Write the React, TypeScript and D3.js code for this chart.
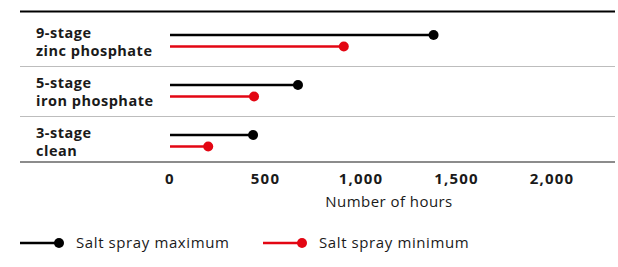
import React, { useEffect, useRef } from "react";
import * as d3 from "d3";

const categories = [["9-stage", "zinc phosphate"], ["5-stage", "iron phosphate"], ["3-stage", "clean"]];
const maxHours = [1380, 670, 435];
const minHours = [910, 440, 200];
const ticks = [0, 500, 1000, 1500, 2000];
const seriesNames = ["Salt spray maximum", "Salt spray minimum"];
const colors = ["#000000", "#e30613"];

const FONT = "'Open Sans', 'Noto Sans', sans-serif";

const App = () => {
    const ref = useRef<SVGSVGElement>(null);

    useEffect(() => {
        const svg = d3.select(ref.current);
        svg.selectAll("*").remove();

        const width = 618;
        const height = 267;

        const x = d3.scaleLinear().domain([0, 2000]).range([170, 552]);
        const y = d3
            .scaleBand()
            .domain(categories.map((c) => c[0]))
            .range([15.5, 165.5]);

        // top rule
        svg.append("line")
            .attr("x1", 20).attr("x2", 615)
            .attr("y1", 11.5).attr("y2", 11.5)
            .attr("stroke", "#000").attr("stroke-width", 2);

        // row dividers
        categories.slice(0, -1).forEach((c) => {
            const yy = Math.round(y(c[0])! + y.bandwidth()) + 0.5;
            svg.append("line")
                .attr("x1", 20).attr("x2", 615)
                .attr("y1", yy).attr("y2", yy)
                .attr("stroke", "#bdbdbd").attr("stroke-width", 1);
        });

        // bottom axis line
        svg.append("line")
            .attr("x1", 20).attr("x2", 615)
            .attr("y1", 162).attr("y2", 162)
            .attr("stroke", "#666").attr("stroke-width", 1.5);

        // category labels
        categories.forEach((c) => {
            const cy = y(c[0])! + y.bandwidth() / 2;
            const t = svg.append("text")
                .attr("x", 36)
                .attr("font-family", FONT)
                .attr("font-weight", "bold")
                .attr("font-size", 14.5)
                .attr("letter-spacing", 0.5)
                .attr("fill", "#1a1a1a");
            c.forEach((line, i) => {
                t.append("tspan")
                    .attr("x", 36)
                    .attr("y", cy - 3 + i * 18)
                    .text(line);
            });
        });

        // lollipops
        const series = [maxHours, minHours];
        series.forEach((vals, si) => {
            categories.forEach((c, i) => {
                const cy = y(c[0])! + y.bandwidth() / 2 - 5.5 + si * 11.5;
                svg.append("line")
                    .attr("x1", x(0)).attr("x2", x(vals[i]))
                    .attr("y1", cy).attr("y2", cy)
                    .attr("stroke", colors[si]).attr("stroke-width", 2.5);
                svg.append("circle")
                    .attr("cx", x(vals[i])).attr("cy", cy)
                    .attr("r", 5)
                    .attr("fill", colors[si]);
            });
        });

        // tick labels
        svg.append("g")
            .selectAll("text")
            .data(ticks)
            .enter()
            .append("text")
            .attr("x", (d) => x(d))
            .attr("y", 183.5)
            .attr("text-anchor", "middle")
            .attr("font-family", FONT)
            .attr("font-weight", "bold")
            .attr("font-size", 15)
            .attr("letter-spacing", 1.2)
            .attr("fill", "#1a1a1a")
            .text((d) => d3.format(",")(d));

        svg.append("text")
            .attr("x", 389)
            .attr("y", 207)
            .attr("text-anchor", "middle")
            .attr("font-family", FONT)
            .attr("font-size", 15)
            .attr("letter-spacing", 0.45)
            .attr("fill", "#1a1a1a")
            .text("Number of hours");

        // legend
        const legendX = [20, 263];
        seriesNames.forEach((name, i) => {
            const lx = legendX[i];
            svg.append("line")
                .attr("x1", lx).attr("x2", lx + 38)
                .attr("y1", 243).attr("y2", 243)
                .attr("stroke", colors[i]).attr("stroke-width", 2.5);
            svg.append("circle")
                .attr("cx", lx + 39).attr("cy", 243).attr("r", 5)
                .attr("fill", colors[i]);
            svg.append("text")
                .attr("x", lx + 56)
                .attr("y", 248)
                .attr("font-family", FONT)
                .attr("font-size", 15)
                .attr("letter-spacing", 0.6)
                .attr("fill", "#1a1a1a")
                .text(name);
        });

        svg.attr("width", width).attr("height", height);
    }, []);

    return (
        <div style={{ position: "fixed", left: 0, top: 0, background: "#fff" }}>
            <svg ref={ref} width={618} height={267} style={{ display: "block" }}></svg>
        </div>
    );
};

export default App;
